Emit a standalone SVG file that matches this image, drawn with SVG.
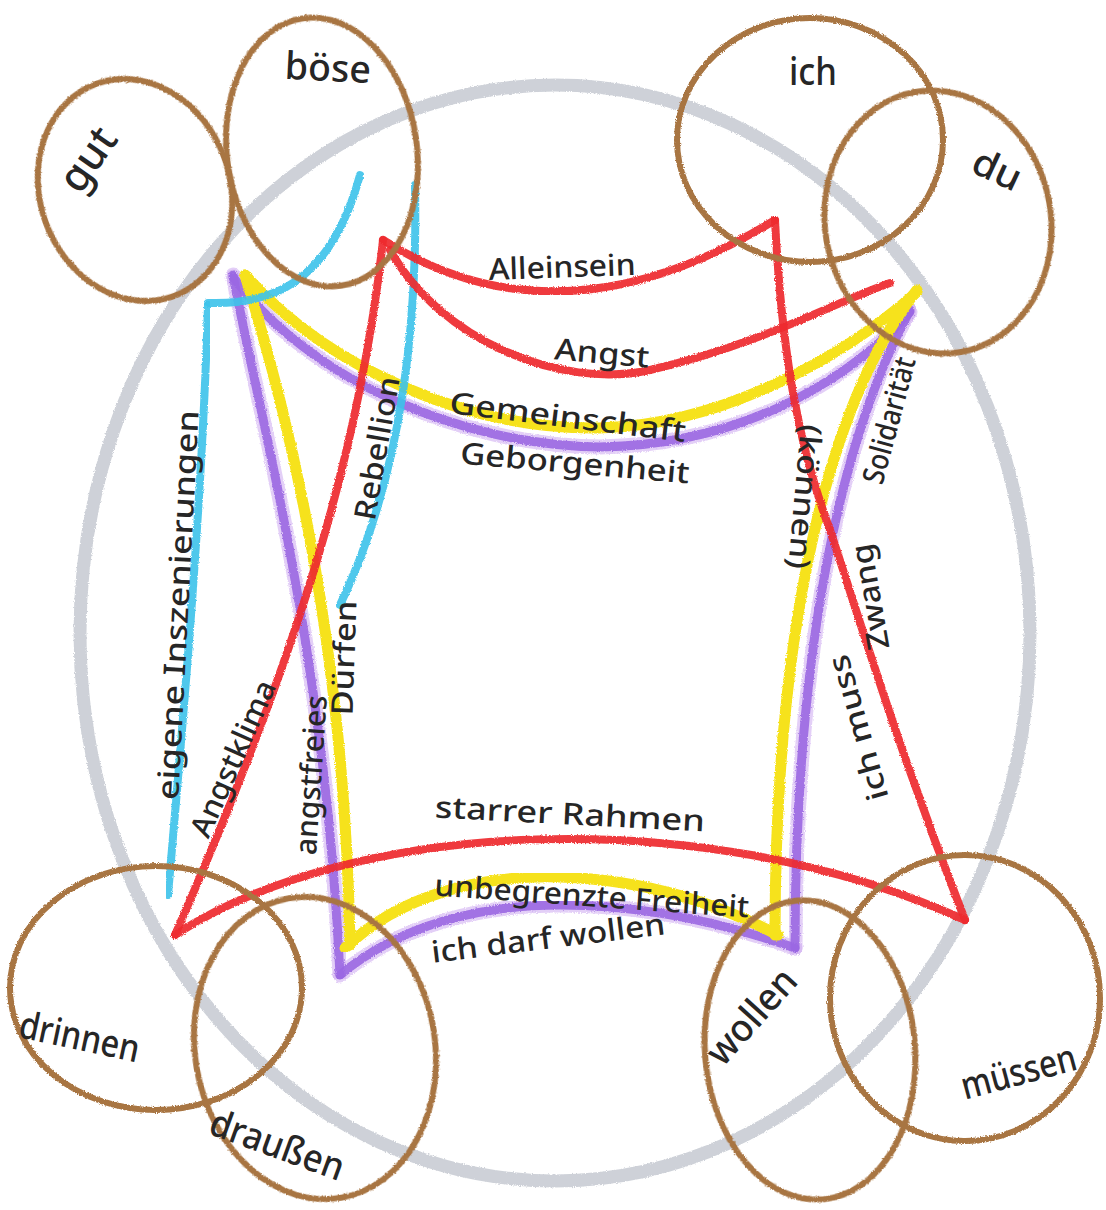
<svg xmlns="http://www.w3.org/2000/svg" width="1106" height="1210" viewBox="0 0 1106 1210">
<defs>
<filter id="crayon" x="-5%" y="-5%" width="110%" height="110%">
<feTurbulence type="fractalNoise" baseFrequency="0.9" numOctaves="2" seed="3" result="n"/>
<feDisplacementMap in="SourceGraphic" in2="n" scale="3" xChannelSelector="R" yChannelSelector="G"/>
</filter>
</defs>
<style>
.line{fill:none;stroke-linecap:round;stroke-linejoin:round;filter:url(#crayon)}
.red{stroke:#ee2b2f;stroke-width:8;opacity:.92}
.yel{stroke:#f6e21c;stroke-width:11}
.pur{stroke:#9b68e3;stroke-width:9;opacity:.9}
.purl{stroke:#d2b0f2;stroke-width:15;opacity:.6}
.cyan{stroke:#3ec3ea;stroke-width:8;opacity:.9}
.ring{fill:none;stroke:#a87542;stroke-width:6;filter:url(#crayon)}
.lbl{font-family:"Noto Sans","DejaVu Sans",sans-serif;fill:#262626;text-anchor:middle;dominant-baseline:central;font-weight:500}
.big{font-size:38px}
.sm{font-size:30px}
</style>
<rect width="1106" height="1210" fill="#ffffff"/>
<ellipse cx="555" cy="633" rx="475" ry="548" fill="none" stroke="#c6cad2" stroke-width="13" opacity=".85" filter="url(#crayon)"/>
<g id="connectors">
<path class="line purl" d="M233,275 C260,420 325,650 340,975"/>
<path class="line purl" d="M233,277 C310,380 460,445 600,447 C730,445 840,390 910,312"/>
<path class="line purl" d="M340,975 C400,925 480,905 560,905 C650,905 730,925 795,948"/>
<path class="line purl" d="M910,310 C840,440 795,650 795,948"/>
<path class="line pur" d="M233,275 C260,420 325,650 340,975"/>
<path class="line pur" d="M233,277 C310,380 460,445 600,447 C730,445 840,390 910,312"/>
<path class="line pur" d="M340,975 C400,925 480,905 560,905 C650,905 730,925 795,948"/>
<path class="line pur" d="M910,310 C840,440 795,650 795,948"/>
<path class="line yel" d="M245,275 C290,420 345,650 350,945"/>
<path class="line yel" d="M245,275 C330,370 470,430 600,428 C720,425 840,360 917,292"/>
<path class="line yel" d="M345,948 C400,895 480,875 560,877 C650,880 720,905 778,935"/>
<path class="line yel" d="M917,290 C830,400 775,620 775,935"/>
<path class="line cyan" d="M208,305 C202,500 185,700 168,895"/>
<path class="line cyan" d="M208,303 C270,305 330,285 360,175"/>
<path class="line cyan" d="M415,185 C418,330 400,480 340,605"/>
<path class="line red" d="M383,240 Q560,352 775,220"/>
<path class="line red" d="M390,250 C440,340 560,390 650,370 C760,345 840,300 890,283"/>
<path class="line red" d="M383,240 C360,450 300,650 175,935"/>
<path class="line red" d="M175,935 C350,820 700,800 965,920"/>
<path class="line red" d="M775,220 C782,360 800,450 830,530 C860,620 895,740 965,920"/>
<text class="lbl sm" textLength="147" lengthAdjust="spacingAndGlyphs" transform="translate(562,266) rotate(-2)">Alleinsein</text>
<text class="lbl sm" textLength="95" lengthAdjust="spacingAndGlyphs" transform="translate(602,352) rotate(5)">Angst</text>
<text class="lbl sm" textLength="238" lengthAdjust="spacingAndGlyphs" transform="translate(568,416) rotate(7)">Gemeinschaft</text>
<text class="lbl sm" textLength="230" lengthAdjust="spacingAndGlyphs" transform="translate(575,462) rotate(5)">Geborgenheit</text>
<text class="lbl sm" textLength="145" lengthAdjust="spacingAndGlyphs" transform="translate(376,448) rotate(-80)">Rebellion</text>
<text class="lbl sm" textLength="390" lengthAdjust="spacingAndGlyphs" transform="translate(177,605) rotate(-87)">eigene Inszenierungen</text>
<text class="lbl sm" textLength="168" lengthAdjust="spacingAndGlyphs" transform="translate(232,758) rotate(-66)">Angstklima</text>
<text class="lbl sm" textLength="160" lengthAdjust="spacingAndGlyphs" transform="translate(310,775) rotate(-86)">angstfreies</text>
<text class="lbl sm" textLength="115" lengthAdjust="spacingAndGlyphs" transform="translate(343,658) rotate(-88)">Dürfen</text>
<text class="lbl sm" textLength="145" lengthAdjust="spacingAndGlyphs" transform="translate(806,497) rotate(95)">(können)</text>
<text class="lbl sm" textLength="130" lengthAdjust="spacingAndGlyphs" transform="translate(888,420) rotate(-75)">Solidarität</text>
<text class="lbl sm" textLength="107" lengthAdjust="spacingAndGlyphs" transform="translate(869,597) rotate(-100)">Zwang</text>
<text class="lbl sm" textLength="150" lengthAdjust="spacingAndGlyphs" transform="translate(857,728) rotate(-106)">ich muss</text>
<text class="lbl sm" textLength="270" lengthAdjust="spacingAndGlyphs" transform="translate(570,813) rotate(3)">starrer Rahmen</text>
<text class="lbl sm" textLength="315" lengthAdjust="spacingAndGlyphs" transform="translate(592,895) rotate(4)">unbegrenzte Freiheit</text>
<text class="lbl sm" textLength="235" lengthAdjust="spacingAndGlyphs" transform="translate(548,937) rotate(-7)">ich darf wollen</text>
</g>
<g id="gut"><ellipse class="ring" cx="135" cy="190" rx="95" ry="113" transform="rotate(-20 135 190)"/><text class="lbl" font-size="42" transform="translate(86,158) rotate(-55)">gut</text></g>
<g id="boese"><ellipse class="ring" cx="322" cy="152" rx="95" ry="135" transform="rotate(-8 322 152)"/><text class="lbl big" textLength="86" lengthAdjust="spacingAndGlyphs" transform="translate(328,66) rotate(3)">böse</text></g>
<g id="ich"><ellipse class="ring" cx="810" cy="140" rx="133" ry="122"/><text class="lbl big" textLength="48" lengthAdjust="spacingAndGlyphs" transform="translate(813,70)">ich</text></g>
<g id="du"><ellipse class="ring" cx="938" cy="222" rx="113" ry="132" transform="rotate(-10 938 222)"/><text class="lbl big" textLength="50" lengthAdjust="spacingAndGlyphs" transform="translate(998,168) rotate(25)">du</text></g>
<g id="drinnen"><ellipse class="ring" cx="156" cy="988" rx="146" ry="122"/><text class="lbl big" textLength="122" lengthAdjust="spacingAndGlyphs" transform="translate(80,1035) rotate(12)">drinnen</text></g>
<g id="draussen"><ellipse class="ring" cx="315" cy="1048" rx="120" ry="152" transform="rotate(-10 315 1048)"/><text class="lbl big" textLength="140" lengthAdjust="spacingAndGlyphs" transform="translate(278,1143) rotate(20)">draußen</text></g>
<g id="wollen"><ellipse class="ring" cx="810" cy="1050" rx="105" ry="150" transform="rotate(-5 810 1050)"/><text class="lbl big" textLength="115" lengthAdjust="spacingAndGlyphs" transform="translate(750,1015) rotate(-48)">wollen</text></g>
<g id="muessen"><ellipse class="ring" cx="965" cy="998" rx="135" ry="143"/><text class="lbl big" textLength="118" lengthAdjust="spacingAndGlyphs" transform="translate(1018,1070) rotate(-15)">müssen</text></g>
</svg>
